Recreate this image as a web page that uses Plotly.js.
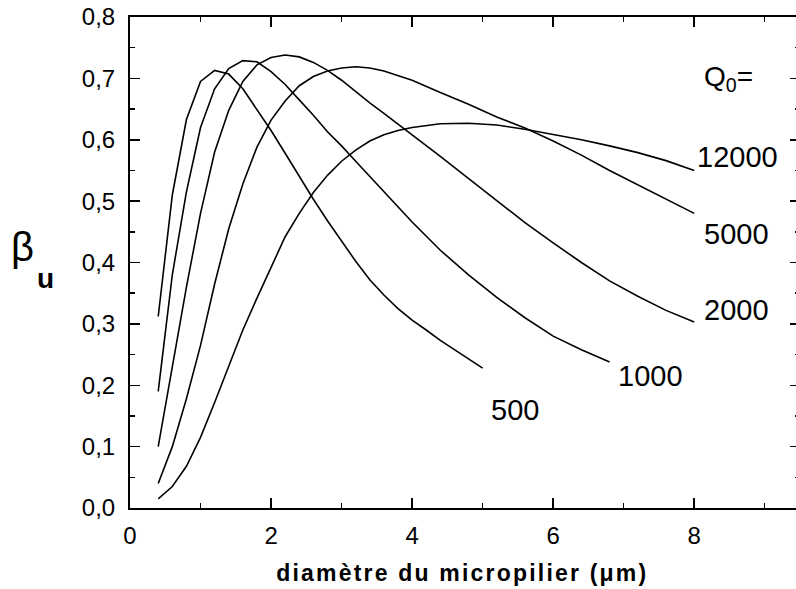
<!DOCTYPE html>
<html>
<head>
<meta charset="utf-8">
<script src="https://cdn.plot.ly/plotly-3.0.1.min.js"></script>
<style>
html,body{margin:0;padding:0;background:#fff;overflow:hidden;}
#wrap{width:796px;height:589px;overflow:hidden;position:relative;}
#chart{width:800px;height:589px;}
</style>
</head>
<body>
<div id="wrap"><div id="chart"></div></div>
<script>
// Q0 = 500
const x500 = [0.4,0.6,0.8,1.0,1.2,1.4,1.6,1.8,2.0,2.2,2.4,2.6,2.8,3.0,3.2,3.4,3.6,3.8,4.0,4.2,4.4,4.6,4.8,5.0];
const y500 = [0.312,0.51,0.633,0.695,0.713,0.707,0.683,0.65,0.615,0.578,0.54,0.503,0.468,0.434,0.402,0.372,0.347,0.325,0.306,0.29,0.273,0.258,0.243,0.228];
// Q0 = 1000
const x1000 = [0.4,0.6,0.8,1.0,1.2,1.4,1.6,1.8,2.0,2.2,2.4,2.6,2.8,3.0,3.2,3.4,3.6,3.8,4.0,4.4,4.8,5.2,5.6,6.0,6.4,6.8];
const y1000 = [0.19,0.38,0.515,0.62,0.683,0.716,0.729,0.727,0.711,0.69,0.665,0.64,0.613,0.59,0.565,0.54,0.515,0.49,0.466,0.42,0.38,0.343,0.31,0.28,0.258,0.238];
// Q0 = 2000
const x2000 = [0.4,0.6,0.8,1.0,1.2,1.4,1.6,1.8,2.0,2.2,2.4,2.6,2.8,3.0,3.2,3.4,3.6,3.8,4.0,4.4,4.8,5.2,5.6,6.0,6.4,6.8,7.2,7.6,8.0];
const y2000 = [0.10,0.23,0.36,0.48,0.58,0.648,0.695,0.722,0.734,0.738,0.735,0.726,0.713,0.697,0.678,0.66,0.643,0.626,0.608,0.573,0.537,0.5,0.465,0.432,0.4,0.37,0.345,0.322,0.303];
// Q0 = 5000
const x5000 = [0.4,0.6,0.8,1.0,1.2,1.4,1.6,1.8,2.0,2.2,2.4,2.6,2.8,3.0,3.2,3.4,3.6,3.8,4.0,4.4,4.8,5.2,5.6,6.0,6.4,6.8,7.2,7.6,8.0];
const y5000 = [0.04,0.10,0.178,0.265,0.365,0.455,0.528,0.588,0.632,0.663,0.688,0.703,0.712,0.717,0.719,0.717,0.712,0.705,0.697,0.677,0.658,0.637,0.619,0.598,0.575,0.55,0.527,0.503,0.48];
// Q0 = 12000
const x12000 = [0.4,0.6,0.8,1.0,1.2,1.4,1.6,1.8,2.0,2.2,2.4,2.6,2.8,3.0,3.2,3.4,3.6,3.8,4.0,4.4,4.8,5.2,5.6,6.0,6.4,6.8,7.2,7.6,8.0];
const y12000 = [0.015,0.035,0.068,0.115,0.172,0.232,0.29,0.342,0.393,0.442,0.48,0.514,0.542,0.565,0.583,0.598,0.608,0.615,0.62,0.626,0.627,0.624,0.617,0.609,0.6,0.59,0.579,0.566,0.55];

const curveLabels = ['500','1000','2000','5000','12000'];
const labelX = [5.46, 7.38, 8.60, 8.60, 8.61];
const labelY = [0.16, 0.215, 0.322, 0.446, 0.572];

const xTickVals = [0,2,4,6,8];
const xTickText = ['0','2','4','6','8'];
const xMinorVals = [1,3,5,7,9];

const xs = [x500,x1000,x2000,x5000,x12000];
const ys = [y500,y1000,y2000,y5000,y12000];

const traces = xs.map((x,i)=>({
  x:x, y:ys[i], type:'scatter', mode:'lines',
  line:{color:'#000', width:1.6}, hoverinfo:'skip', showlegend:false
}));
// empty traces that register the tick-mark axes so they are drawn
traces.push({x:[], y:[], type:'scatter', mode:'lines', xaxis:'x2', yaxis:'y', showlegend:false, hoverinfo:'skip'});
traces.push({x:[], y:[], type:'scatter', mode:'lines', xaxis:'x', yaxis:'y2', showlegend:false, hoverinfo:'skip'});

const font = 'Liberation Sans, Arial, sans-serif';
const annotations = curveLabels.map((t,i)=>({
  x:labelX[i], y:labelY[i], xref:'x', yref:'y', text:t, showarrow:false,
  xanchor:'center', yanchor:'middle', font:{family:font, size:29, color:'#000'}
}));
annotations.push({x:8.49, y:0.699, xref:'x', yref:'y', text:'Q<sub>0</sub>=', showarrow:false,
  xanchor:'center', yanchor:'middle', font:{family:font, size:28, color:'#000'}});
annotations.push({x:-0.1604, y:0.532, xref:'paper', yref:'paper', text:'β', showarrow:false,
  xanchor:'center', yanchor:'middle', font:{family:font, size:40, color:'#000'}});
annotations.push({x:-0.126, y:0.468, xref:'paper', yref:'paper', text:'<b>u</b>', showarrow:false,
  xanchor:'center', yanchor:'middle', font:{family:font, size:28, color:'#000'}});
annotations.push({x:0.497, y:-0.1324, xref:'paper', yref:'paper', text:'<b>diamètre du micropilier (μm)</b>', showarrow:false,
  xanchor:'center', yanchor:'middle', font:{family:font, size:23, color:'#000'}});

const tickfont = {family:font, size:24, color:'#000'};
const clear = 'rgba(0,0,0,0)';

const layout = {
  width:800, height:589,
  margin:{l:130, r:0, t:17, b:81},
  paper_bgcolor:'#fff', plot_bgcolor:'#fff',
  separators:',.',
  xaxis:{
    range:[0,9.5], tickmode:'array', tickvals:xTickVals, ticktext:xTickText,
    showgrid:false, zeroline:false, showline:true, linecolor:'#000', linewidth:2, mirror:true,
    ticks:'outside', ticklen:5, tickcolor:clear, tickfont:tickfont
  },
  yaxis:{
    range:[0,0.8], dtick:0.1, tick0:0, tickformat:'.1f',
    showgrid:false, zeroline:false, showline:true, linecolor:'#000', linewidth:2, mirror:true,
    ticks:'outside', ticklen:8, tickcolor:clear, tickfont:tickfont
  },
  xaxis2:{
    overlaying:'x', anchor:'y', side:'bottom', range:[0,9.5],
    tickmode:'array', tickvals:xTickVals, showticklabels:false,
    showgrid:false, zeroline:false, showline:true, linecolor:'#000', linewidth:2,
    mirror:'ticks', ticks:'inside', ticklen:10, tickwidth:1.5, tickcolor:'#000',
    minor:{tickmode:'array', tickvals:xMinorVals, ticks:'inside', ticklen:5, tickwidth:1.5, tickcolor:'#000'}
  },
  yaxis2:{
    overlaying:'y', anchor:'x', side:'left', range:[0,0.8], dtick:0.1, tick0:0, showticklabels:false,
    showgrid:false, zeroline:false, showline:true, linecolor:'#000', linewidth:2,
    mirror:'ticks', ticks:'inside', ticklen:10, tickwidth:1.5, tickcolor:'#000',
    minor:{dtick:0.05, ticks:'inside', ticklen:5, tickwidth:1.5, tickcolor:'#000'}
  },
  annotations:annotations
};

Plotly.newPlot('chart', traces, layout, {displayModeBar:false, staticPlot:true}).then(function(gd){
  var els = gd.querySelectorAll('.annotation-text');
  els.forEach(function(el){
    if (el.textContent.indexOf('diam') === 0) { el.style.letterSpacing = '2.2px'; }
  });
});
</script>
</body>
</html>
